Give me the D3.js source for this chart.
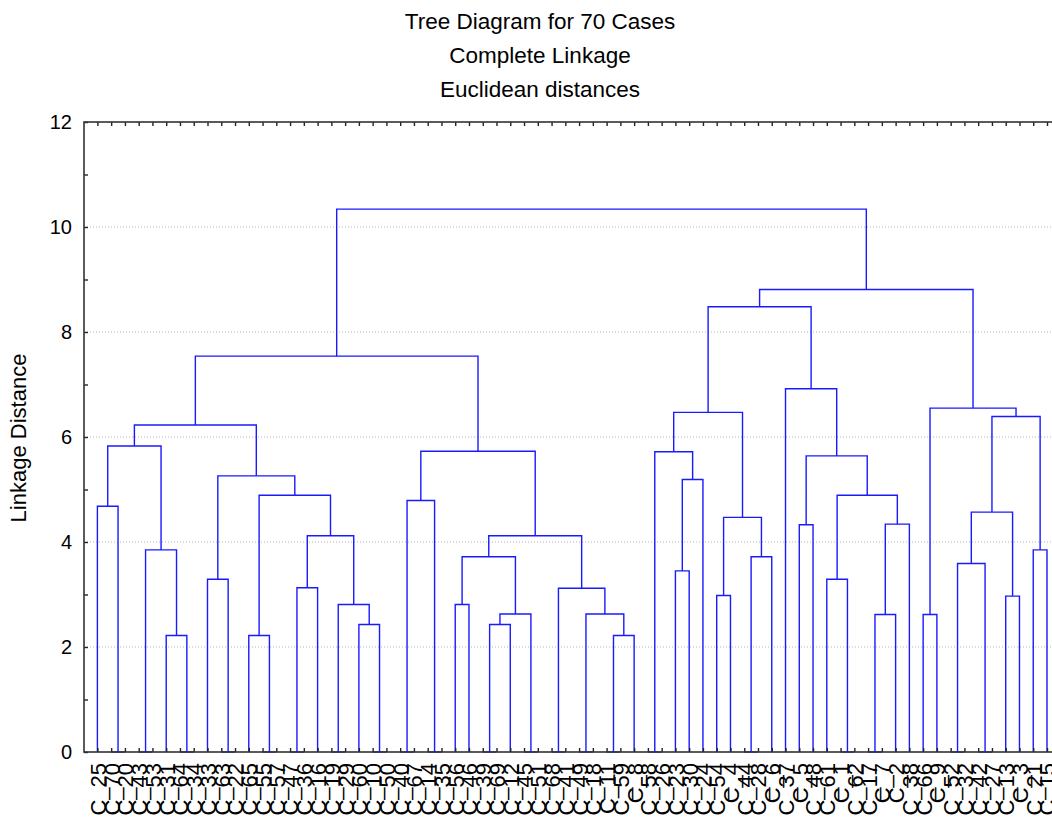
<!DOCTYPE html>
<html>
<head>
<meta charset="utf-8">
<script src="https://cdn.jsdelivr.net/npm/d3@7"></script>
<style>
  body { margin: 0; background: #fff; }
  text { font-family: Arial, "Liberation Sans", sans-serif; }
</style>
</head>
<body>
<div id="chart"></div>
<script>
// tree diagram (complete linkage, euclidean) for 70 cases

// leaf labels in the order they appear on the x axis
const leafLabels = [
  "C_25", "C_70", "C_20", "C_43", "C_53", "C_31", "C_64", "C_34", "C_33", "C_63",
  "C_22", "C_65", "C_55", "C_57", "C_47", "C_36", "C_16", "C_19", "C_29", "C_60",
  "C_10", "C_50", "C_40", "C_67", "C_14", "C_35", "C_56", "C_46", "C_39", "C_69",
  "C_12", "C_45", "C_51", "C_68", "C_41", "C_49", "C_18", "C_11", "C_59", "C_8",
  "C_58", "C_26", "C_23", "C_30", "C_24", "C_54", "C_4", "C_44", "C_28", "C_6",
  "C_37", "C_5", "C_48", "C_61", "C_1", "C_62", "C_17", "C_7", "C_2", "C_38",
  "C_66", "C_9", "C_52", "C_32", "C_42", "C_27", "C_13", "C_3", "C_21", "C_15"
];

// merges: [left, right, distance]; ids < 70 are leaves (by position), id 70 + i is merge i
const merges = [
  [1, 2, 0], [3, 4, 0], [6, 7, 0], [9, 10, 0], [12, 13, 0], [14, 15, 0], [17, 18, 0],
  [20, 21, 0], [22, 23, 0], [24, 25, 0], [28, 29, 0], [31, 32, 0], [33, 34, 0],
  [35, 36, 0], [37, 38, 0], [40, 41, 0], [47, 48, 0], [54, 55, 0], [56, 57, 0],
  [62, 63, 0], [64, 65, 0],
  // left block
  [0, 70, 4.68], [5, 72, 2.22], [71, 92, 3.85], [91, 93, 5.83], [8, 73, 3.29],
  [11, 74, 2.22], [75, 16, 3.13], [19, 77, 2.43], [76, 98, 2.81], [97, 99, 4.12],
  [96, 100, 4.89], [95, 101, 5.26], [94, 102, 6.23],
  // middle block
  [78, 79, 4.79], [26, 27, 2.81], [80, 30, 2.43], [106, 81, 2.63], [105, 107, 3.72],
  [84, 39, 2.22], [83, 109, 2.63], [82, 110, 3.12], [108, 111, 4.12], [104, 112, 5.73],
  [103, 113, 7.54],
  // right block
  [42, 43, 3.45], [115, 44, 5.19], [85, 116, 5.72], [45, 46, 2.98], [86, 49, 3.72],
  [118, 119, 4.47], [117, 120, 6.47], [51, 52, 4.33], [53, 87, 3.29], [88, 58, 2.62],
  [124, 59, 4.34], [123, 125, 4.89], [122, 126, 5.64], [50, 127, 6.92], [121, 128, 8.48],
  [60, 61, 2.62], [89, 90, 3.59], [66, 67, 2.97], [131, 132, 4.57], [68, 69, 3.85],
  [133, 134, 6.39], [130, 135, 6.55], [129, 136, 8.81],
  [114, 137, 10.34]
];

const yTicks = [0, 2, 4, 6, 8, 10, 12];
const yMinorTicks = [1, 3, 5, 7, 9, 11];
const titleLines = ["Tree Diagram for 70 Cases", "Complete Linkage", "Euclidean distances"];

const width = 1052, height = 817;
const margin = { top: 122, left: 84, bottom: 752, right: 1061 };

const svg = d3.select("#chart")
    .append("svg")
    .attr("width", width)
    .attr("height", height);

const xScale = d3.scalePoint()
    .domain(d3.range(leafLabels.length))
    .range([97.4, 1047]);

const yScale = d3.scaleLinear()
    .domain([0, 12])
    .range([margin.bottom, margin.top]);

// dotted gridlines
svg.append("g")
    .selectAll("line")
    .data(yTicks.filter(d => d > 0 && d < 12))
    .enter()
    .append("line")
    .attr("x1", margin.left)
    .attr("x2", margin.right)
    .attr("y1", d => yScale(d))
    .attr("y2", d => yScale(d))
    .attr("stroke", "#b5b5b5")
    .attr("stroke-width", 1)
    .attr("stroke-dasharray", "1,2");

// position and height of every node
const n = leafLabels.length;
function nodeX(id) {
    return id < n ? xScale(id) : merges[id - n].x;
}
function nodeH(id) {
    return id < n ? 0 : merges[id - n][2];
}
merges.forEach(function (m) {
    m.x = (nodeX(m[0]) + nodeX(m[1])) / 2;
});

svg.append("g")
    .selectAll("path")
    .data(merges)
    .enter()
    .append("path")
    .attr("d", function (m) {
        return "M" + nodeX(m[0]) + "," + yScale(nodeH(m[0])) +
            "V" + yScale(m[2]) +
            "H" + nodeX(m[1]) +
            "V" + yScale(nodeH(m[1]));
    })
    .attr("fill", "none")
    .attr("stroke", "#1a1aff")
    .attr("stroke-width", 1.4);

// y axis (ticks point inward)
const yAxis = svg.append("g")
    .attr("transform", "translate(" + margin.left + ",0)")
    .call(d3.axisLeft(yScale).tickValues(yTicks).tickSizeInner(-4).tickSizeOuter(0).tickPadding(12));
svg.append("g")
    .attr("transform", "translate(" + margin.left + ",0)")
    .call(d3.axisLeft(yScale).tickValues(yMinorTicks).tickSizeInner(-4).tickSizeOuter(0).tickFormat(""));

// bottom axis with rotated case labels
const xAxis = svg.append("g")
    .attr("transform", "translate(0," + margin.bottom + ")")
    .call(d3.axisBottom(xScale).tickSizeInner(-4).tickSizeOuter(0).tickFormat(i => leafLabels[i]));
xAxis.selectAll("text")
    .attr("transform", "rotate(-90)")
    .attr("x", -11)
    .attr("y", 0)
    .attr("dy", "0.36em")
    .attr("text-anchor", "end")
    .style("font-size", "22px")
    .attr("fill", "#000");

// top ticks
svg.append("g")
    .attr("transform", "translate(0," + margin.top + ")")
    .call(d3.axisTop(xScale).tickSizeInner(-4).tickSizeOuter(0).tickFormat(""));

svg.selectAll(".domain").remove();
svg.selectAll(".tick line").attr("stroke", "#222").attr("stroke-width", 1.4);

yAxis.selectAll("text")
    .style("font-size", "20px")
    .attr("fill", "#000");

// frame
svg.append("rect")
    .attr("x", margin.left)
    .attr("y", margin.top)
    .attr("width", margin.right - margin.left)
    .attr("height", margin.bottom - margin.top)
    .attr("fill", "none")
    .attr("stroke", "#333")
    .attr("stroke-width", 1.6);

// titles
svg.append("g")
    .selectAll("text")
    .data(titleLines)
    .enter()
    .append("text")
    .attr("x", 540)
    .attr("y", (d, i) => 29 + i * 34)
    .attr("text-anchor", "middle")
    .style("font-size", "22.5px")
    .attr("fill", "#000")
    .text(d => d);

svg.append("text")
    .attr("transform", "translate(26,438) rotate(-90)")
    .attr("text-anchor", "middle")
    .style("font-size", "22px")
    .attr("fill", "#000")
    .text("Linkage Distance");
</script>
</body>
</html>
